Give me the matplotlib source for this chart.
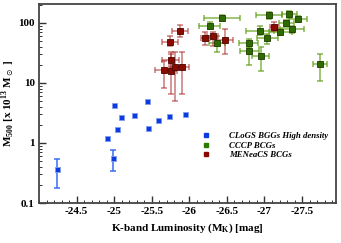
import matplotlib
matplotlib.use("Agg")
import matplotlib.pyplot as plt
import numpy as np
from matplotlib.lines import Line2D
from matplotlib.ticker import FixedLocator, FixedFormatter, MultipleLocator, LogLocator, NullFormatter

# ---------------- data ----------------
blue_x = [-24.24, -24.98, -24.90, -25.04, -25.09, -25.00, -25.26, -25.44, -25.45, -25.58, -25.73, -25.94]
blue_y = [0.365, 0.556, 1.23, 1.71, 2.71, 4.3, 2.96, 4.95, 1.78, 2.42, 2.85, 3.04]
blue_ylo = [0.178, 0.345, np.nan, np.nan, np.nan, np.nan, np.nan, np.nan, np.nan, np.nan, np.nan, np.nan]
blue_yhi = [0.54, 0.77, np.nan, np.nan, np.nan, np.nan, np.nan, np.nan, np.nan, np.nan, np.nan, np.nan]

red_x = [-25.88, -25.74, -25.75, -25.66, -25.75, -25.81, -25.90, -26.21, -26.31, -26.47, -27.13]
red_y = [73.6, 48.8, 24.5, 16.7, 16.0, 18.7, 18.7, 56.0, 60.0, 52.7, 86.8]
red_xerr = [0.107, 0.107, 0.11, 0.12, 0.09, 0.08, 0.093, 0.06, 0.07, 0.11, 0.05]
red_ylo = [57.6, 40.8, 16.5, 8.2, 6.6, 5.1, 6.5, 43.0, 42.0, 30.4, 73.0]
red_yhi = [94.0, 60.0, 33.0, 23.5, 30.4, 32.3, 32.3, 70.0, 72.0, 79.0, 102.0]

green_x = [-26.44, -26.27, -26.37, -26.79, -26.80, -26.95, -26.94, -27.04, -27.06, -27.33, -27.29, -27.21, -27.36, -27.45, -27.74]
green_y = [121, 90, 46.4, 46.4, 33.7, 27.8, 74.5, 55.5, 134, 139, 98.7, 71.6, 78.4, 117, 20.7]
green_xerr = [0.24, 0.14, 0.11, 0.13, 0.125, 0.11, 0.18, 0.14, 0.17, 0.10, 0.10, 0.15, 0.16, 0.12, 0.09]
green_ylo = [108, 78, 32.5, 38, 20.2, 16.1, 63, 45, 118, 122, 85, 62, 68, 104, 10.9]
green_yhi = [136, 103, 60, 55, 40.3, 39.4, 88, 66, 152, 158, 113, 83, 90, 132, 30.4]

x_ticks = [-24.5, -25, -25.5, -26, -26.5, -27, -27.5]
x_labels = ["-24.5", "-25", "-25.5", "-26", "-26.5", "-27", "-27.5"]
y_ticks = [0.1, 1, 10, 100]
y_labels = ["0.1", "1", "10", "100"]
legend_labels = ["CLoGS BGGs High density", "CCCP BCGs", "MENeaCS BCGs"]

# ---------------- plot ----------------
serif = ["Liberation Serif", "DejaVu Serif"]
fig = plt.figure(figsize=(3.41, 2.43), dpi=100)
ax = fig.add_axes([0.1144, 0.1646, 0.8706, 0.819])

bx = np.array(blue_x); by = np.array(blue_y)
blo = np.array(blue_ylo); bhi = np.array(blue_yhi)
m = ~np.isnan(blo)
ax.errorbar(bx[m], by[m], yerr=[by[m] - blo[m], bhi[m] - by[m]], fmt='none',
            ecolor='#3a6cf5', elinewidth=1.1, capsize=2.2, capthick=1.1, zorder=2)
ax.plot(bx, by, 's', ms=3.6, mfc='#0b3be0', mec='#7f9cf0', mew=0.6, zorder=3)

gx = np.array(green_x); gy = np.array(green_y)
ax.errorbar(gx, gy, xerr=green_xerr, yerr=[gy - np.array(green_ylo), np.array(green_yhi) - gy],
            fmt='none', ecolor='#5c9d12', elinewidth=1.1, capsize=2.2, capthick=1.1, alpha=0.75, zorder=2)
ax.plot(gx, gy, 's', ms=3.8, mfc='#2f6a00', mec='#1d3a00', mew=0.6, zorder=3)

rx = np.array(red_x); ry = np.array(red_y)
ax.errorbar(rx, ry, xerr=red_xerr, yerr=[ry - np.array(red_ylo), np.array(red_yhi) - ry],
            fmt='none', ecolor='#a82222', elinewidth=1.1, capsize=2.2, capthick=1.1, alpha=0.6, zorder=2)
ax.plot(rx, ry, 's', ms=3.8, mfc='#8a0a00', mec='#4a0500', mew=0.6, zorder=3)

ax.set_yscale('log')
ax.set_xlim(-24.0, -27.95)
ax.set_ylim(0.1, 207)

ax.xaxis.set_major_locator(FixedLocator(x_ticks))
ax.xaxis.set_major_formatter(FixedFormatter(x_labels))
ax.xaxis.set_minor_locator(MultipleLocator(0.1))
ax.yaxis.set_major_locator(FixedLocator(y_ticks))
ax.yaxis.set_major_formatter(FixedFormatter(y_labels))
ax.yaxis.set_minor_locator(LogLocator(base=10, subs=np.arange(2, 10)))
ax.yaxis.set_minor_formatter(NullFormatter())

ax.tick_params(which='major', direction='in', length=5, width=1.0, color='#333333',
               top=False, right=False, pad=3)
ax.tick_params(which='minor', direction='in', length=2.5, width=0.7, color='#333333',
               top=False, right=False)
for lab in ax.get_xticklabels() + ax.get_yticklabels():
    lab.set_fontfamily(serif)
    lab.set_fontweight('bold')
    lab.set_fontsize(8)

for s in ax.spines.values():
    s.set_linewidth(1.3)
    s.set_color('#444444')

ax.set_xlabel("K-band Luminosity (M$_\\mathregular{K}$) [mag]", fontfamily=serif,
              fontweight='bold', fontsize=8, labelpad=4)
ax.set_ylabel("M$_\\mathregular{500}$ [x 10$^\\mathregular{13}$ M$_\\odot$ ]", fontfamily=serif,
              fontweight='bold', fontsize=8, labelpad=1)

handles = [Line2D([], [], ls='none', marker='s', ms=3.2, mfc=c, mec=c)
           for c in ['#0b3be0', '#2f7a00', '#8a0a00']]
leg = ax.legend(handles, legend_labels, loc='lower right', frameon=False,
                prop={'family': serif, 'style': 'italic', 'weight': 'bold', 'size': 6.3},
                handlelength=1.0, handletextpad=2.2, labelspacing=0.15,
                bbox_to_anchor=(0.995, 0.19), borderaxespad=0.3)

fig.savefig("out.png", dpi=100)
